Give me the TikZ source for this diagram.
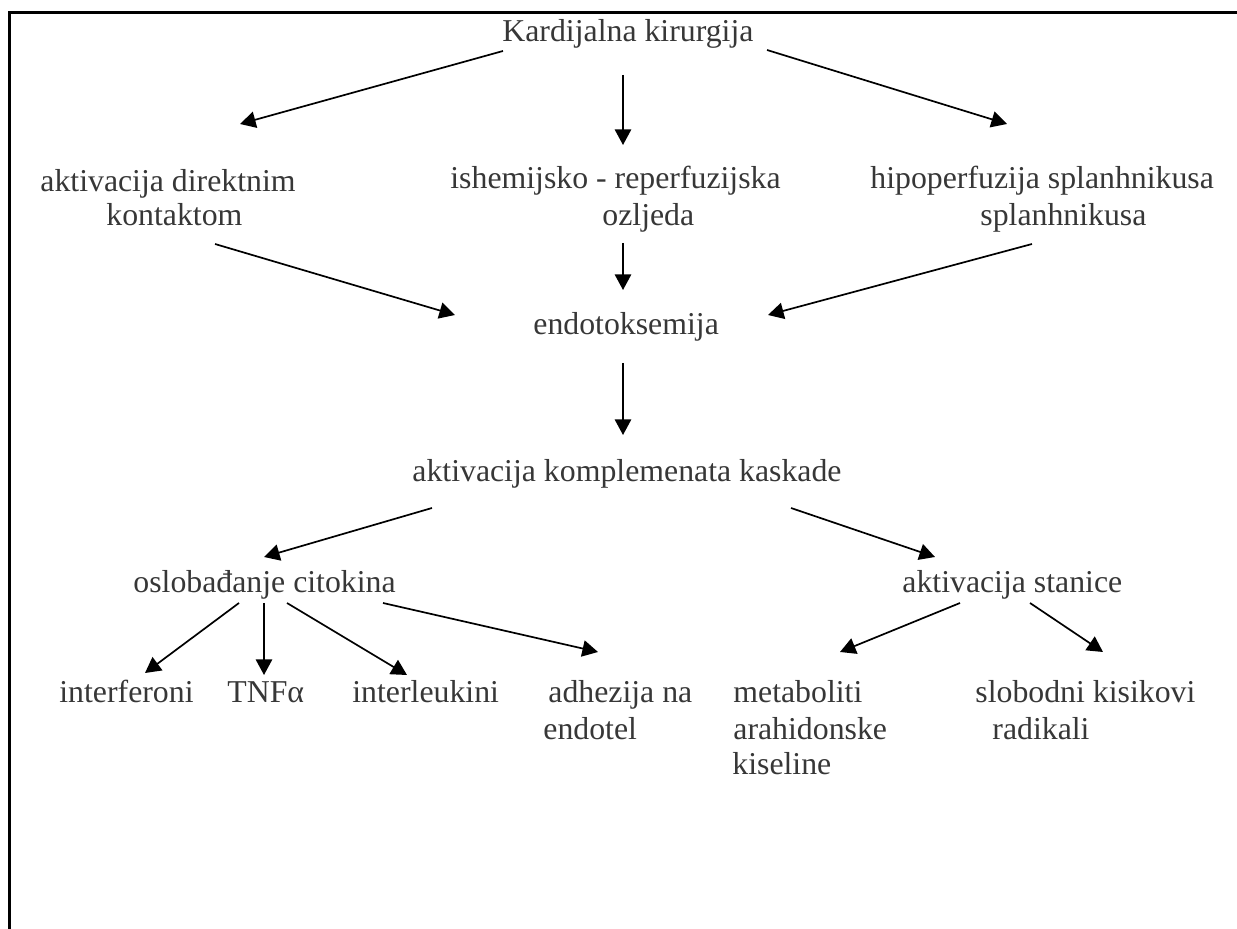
\documentclass[tikz,border=0pt]{standalone}
\usepackage{fontspec}
\setmainfont{Liberation Serif}
\usetikzlibrary{arrows.meta}
\definecolor{txtgray}{RGB}{55,55,55}
\tikzset{
  lbl/.style={anchor=base west, inner sep=0pt, text=txtgray, font=\fontsize{15.9}{18}\selectfont},
  arr/.style={line width=0.85pt, -{Triangle[length=7.8pt,width=8.2pt]}},
  frame/.style={line width=1.25pt}
}
\begin{document}
\begin{tikzpicture}[x=0.5pt,y=-0.5pt]
\useasboundingbox (0,0) rectangle (1237,929);
\draw[frame] (9.5,929) -- (9.5,12.5) -- (1237,12.5);

% text nodes
\node[lbl] (k) at (502,42) {Kardijalna kirurgija};
\node[lbl] (dk1) at (40,192) {aktivacija direktnim};
\node[lbl] (dk2) at (106,226) {kontaktom};
\node[lbl] (ir1) at (450,189) {ishemijsko - reperfuzijska};
\node[lbl] (ir2) at (602,226) {ozljeda};
\node[lbl] (hs1) at (870,189) {hipoperfuzija splanhnikusa};
\node[lbl] (hs2) at (980,226) {splanhnikusa};
\node[lbl] (e) at (533,335) {endotoksemija};
\node[lbl] (kk) at (412,482) {aktivacija komplemenata kaskade};
\node[lbl] (o) at (133,593) {oslobađanje citokina};
\node[lbl] (s) at (902,593) {aktivacija stanice};
\node[lbl] (if) at (59,703) {interferoni};
\node[lbl] (tnf) at (227,703) {TNFα};
\node[lbl] (il) at (352,703) {interleukini};
\node[lbl] (ad1) at (548,703) {adhezija na};
\node[lbl] (ad2) at (543,740) {endotel};
\node[lbl] (m1) at (733,703) {metaboliti};
\node[lbl] (m2) at (733,740) {arahidonske};
\node[lbl] (m3) at (732,775) {kiseline};
\node[lbl] (sk1) at (975,703) {slobodni kisikovi};
\node[lbl] (sk2) at (992,740) {radikali};

% connector end points
\coordinate (kL) at (503,51);   \coordinate (dkT) at (240,124);
\coordinate (kM) at (623,75);   \coordinate (irT) at (623,145);
\coordinate (kR) at (767,50);   \coordinate (hsT) at (1007,124);
\coordinate (dkB) at (215,244); \coordinate (eL) at (455,315);
\coordinate (irB) at (623,243); \coordinate (eT) at (623,290);
\coordinate (hsB) at (1032,244);\coordinate (eR) at (768,315);
\coordinate (eB) at (623,363);  \coordinate (kkT) at (623,435);
\coordinate (kkL) at (432,508); \coordinate (oT) at (264,557);
\coordinate (kkR) at (791,508); \coordinate (sT) at (935,557);
\coordinate (o1) at (239,603);  \coordinate (ifT) at (145,673);
\coordinate (o2) at (264,603);  \coordinate (tnfT) at (264,675);
\coordinate (o3) at (287,603);  \coordinate (ilT) at (407,675);
\coordinate (o4) at (383,603);  \coordinate (adT) at (598,652);
\coordinate (s1) at (960,603);  \coordinate (mT) at (840,652);
\coordinate (s2) at (1030,603); \coordinate (skT) at (1103,652);

% connectors
\draw[arr] (kL) -- (dkT);
\draw[arr] (kM) -- (irT);
\draw[arr] (kR) -- (hsT);
\draw[arr] (dkB) -- (eL);
\draw[arr] (irB) -- (eT);
\draw[arr] (hsB) -- (eR);
\draw[arr] (eB) -- (kkT);
\draw[arr] (kkL) -- (oT);
\draw[arr] (kkR) -- (sT);
\draw[arr] (o1) -- (ifT);
\draw[arr] (o2) -- (tnfT);
\draw[arr] (o3) -- (ilT);
\draw[arr] (o4) -- (adT);
\draw[arr] (s1) -- (mT);
\draw[arr] (s2) -- (skT);
\end{tikzpicture}
\end{document}
